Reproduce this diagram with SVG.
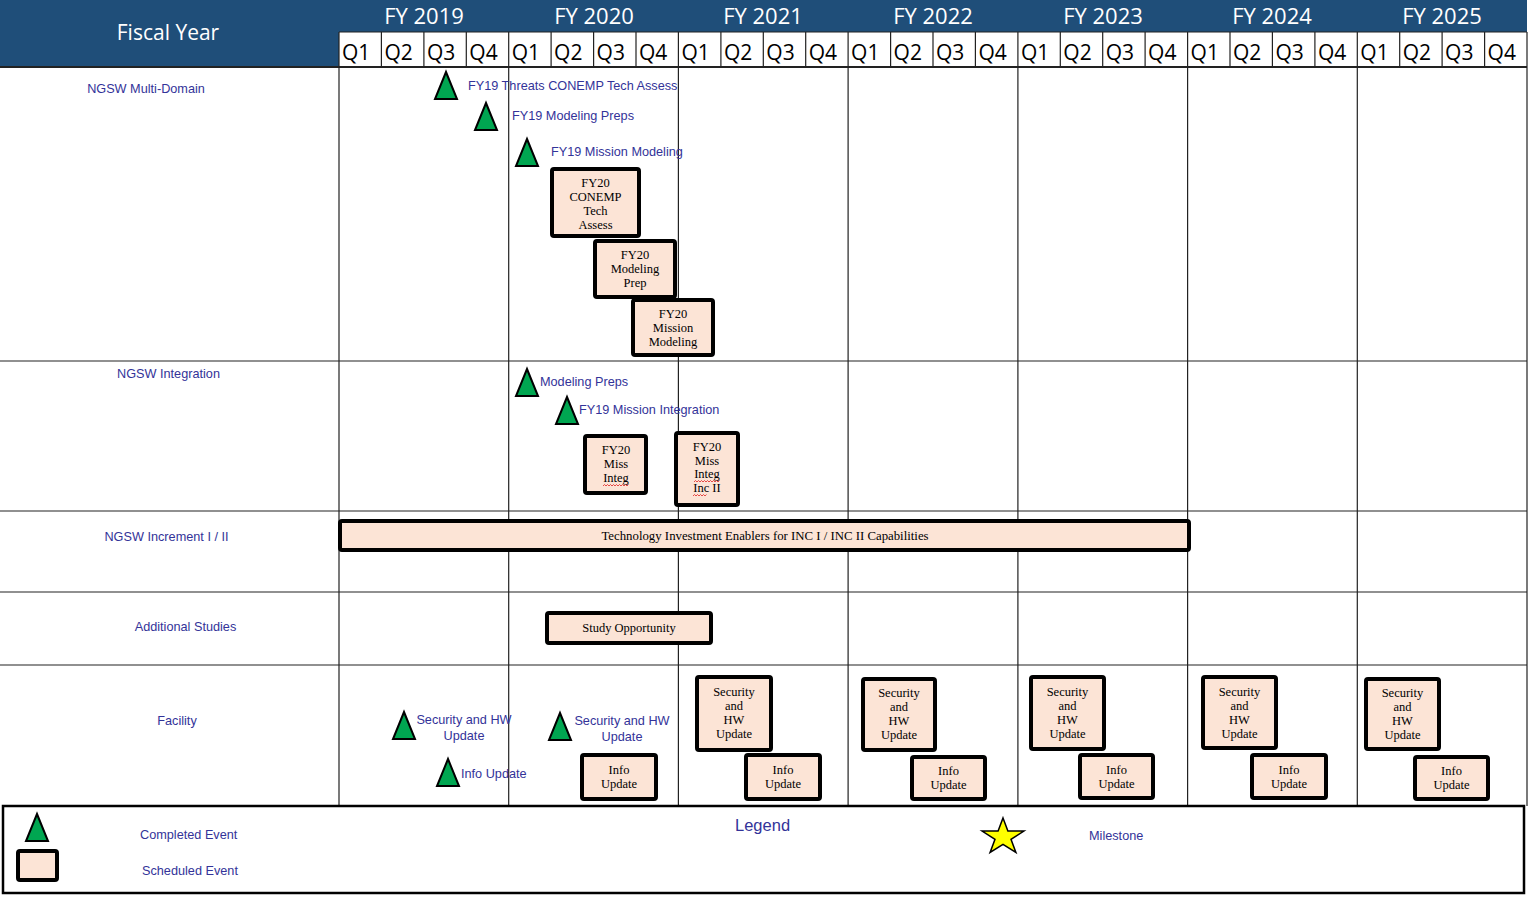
<svg xmlns="http://www.w3.org/2000/svg" xmlns:xlink="http://www.w3.org/1999/xlink" width="1529" height="897" viewBox="0 0 1529 897">
<style>
.lbl{font-family:"Liberation Sans",Arial,sans-serif;font-size:12.7px;fill:#333399}
.lblc{font-family:"Liberation Sans",Arial,sans-serif;font-size:12.7px;fill:#333399;text-anchor:middle}
.box{fill:#FCE4D6;stroke:#000;stroke-width:4}
.bt{font-family:"Liberation Serif","Times New Roman",serif;font-size:12.5px;fill:#000;text-anchor:middle}
.tri{fill:#00A651;stroke:#000;stroke-width:2}
.hd{font-family:"Open Sans","Noto Sans",sans-serif;fill:#fff;font-size:21px}
.fy{font-family:"Open Sans","Noto Sans",sans-serif;fill:#fff;font-size:22px;text-anchor:middle}
.q{font-family:"Open Sans","Noto Sans",sans-serif;font-size:21px;fill:#000}
.grid{stroke:#222;stroke-width:1.2;fill:none}
.wavy{stroke:#E02020;stroke-width:0.8;fill:none}
</style>
<defs>
<polygon id="tri" points="0,0 11,27 -11,27"/>
</defs>
<rect x="0" y="0" width="1529" height="897" fill="#fff"/>

<g id="header">
<rect x="0" y="0" width="1527" height="32" fill="#1F4E79"/>
<rect x="0" y="0" width="339" height="67" fill="#1F4E79"/>
<rect x="339" y="32" width="1188" height="35" fill="#fff"/>
<text class="hd" x="168" y="40" text-anchor="middle">Fiscal Year</text>
<text class="fy" x="424" y="24">FY 2019</text>
<text class="fy" x="594" y="24">FY 2020</text>
<text class="fy" x="763" y="24">FY 2021</text>
<text class="fy" x="933" y="24">FY 2022</text>
<text class="fy" x="1103" y="24">FY 2023</text>
<text class="fy" x="1272" y="24">FY 2024</text>
<text class="fy" x="1442" y="24">FY 2025</text>
<path class="grid" d="M339 32H1527M339 32V67M381.4 32V67M423.9 32V67M466.3 32V67M508.7 32V67M551.1 32V67M593.6 32V67M636 32V67M678.4 32V67M720.9 32V67M763.3 32V67M805.7 32V67M848.1 32V67M890.6 32V67M933 32V67M975.4 32V67M1017.9 32V67M1060.3 32V67M1102.7 32V67M1145.1 32V67M1187.6 32V67M1230 32V67M1272.4 32V67M1314.9 32V67M1357.3 32V67M1399.7 32V67M1442.1 32V67M1484.6 32V67M1527 32V67"/>
<g class="q">
<text x="342" y="60">Q1</text><text x="384.4" y="60">Q2</text><text x="426.9" y="60">Q3</text><text x="469.3" y="60">Q4</text>
<text x="511.7" y="60">Q1</text><text x="554.1" y="60">Q2</text><text x="596.6" y="60">Q3</text><text x="639" y="60">Q4</text>
<text x="681.4" y="60">Q1</text><text x="723.9" y="60">Q2</text><text x="766.3" y="60">Q3</text><text x="808.7" y="60">Q4</text>
<text x="851.1" y="60">Q1</text><text x="893.6" y="60">Q2</text><text x="936" y="60">Q3</text><text x="978.4" y="60">Q4</text>
<text x="1020.9" y="60">Q1</text><text x="1063.3" y="60">Q2</text><text x="1105.7" y="60">Q3</text><text x="1148.1" y="60">Q4</text>
<text x="1190.6" y="60">Q1</text><text x="1233" y="60">Q2</text><text x="1275.4" y="60">Q3</text><text x="1317.9" y="60">Q4</text>
<text x="1360.3" y="60">Q1</text><text x="1402.7" y="60">Q2</text><text x="1445.1" y="60">Q3</text><text x="1487.6" y="60">Q4</text>
</g>
<path d="M0 67H1527" stroke="#222" stroke-width="2"/>
</g>

<g id="grid">
<path class="grid" d="M339 67V806M508.7 67V806M678.4 67V806M848.1 67V806M1017.9 67V806M1187.6 67V806M1357.3 67V806M1527 67V806M0 361H1527M0 511H1527M0 592H1527M0 665H1527"/>
</g>

<g id="row-labels">
<text class="lblc" x="146" y="93">NGSW Multi-Domain</text>
<text class="lblc" x="168.5" y="378">NGSW Integration</text>
<text class="lblc" x="166.5" y="541">NGSW Increment I / II</text>
<text class="lblc" x="185.5" y="631">Additional Studies</text>
<text class="lblc" x="177" y="725">Facility</text>
</g>

<g id="ev-fy19-threats"><use href="#tri" class="tri" x="446" y="72"/><text class="lbl" x="468" y="90">FY19 Threats CONEMP Tech Assess</text></g>
<g id="ev-fy19-modeling-preps"><use href="#tri" class="tri" x="486" y="103"/><text class="lbl" x="512" y="120">FY19 Modeling Preps</text></g>
<g id="ev-fy19-mission-modeling"><use href="#tri" class="tri" x="527" y="139"/><text class="lbl" x="551" y="156">FY19 Mission Modeling</text></g>

<g id="box-fy20-conemp"><rect class="box" x="552" y="169" width="87" height="67" rx="2"/>
<text class="bt" x="595.5" y="187">FY20</text><text class="bt" x="595.5" y="201">CONEMP</text><text class="bt" x="595.5" y="215">Tech</text><text class="bt" x="595.5" y="229">Assess</text></g>
<g id="box-fy20-modeling-prep"><rect class="box" x="595" y="241" width="80" height="56" rx="2"/>
<text class="bt" x="635" y="259">FY20</text><text class="bt" x="635" y="273">Modeling</text><text class="bt" x="635" y="287">Prep</text></g>
<g id="box-fy20-mission-modeling"><rect class="box" x="633" y="300" width="80" height="55" rx="2"/>
<text class="bt" x="673" y="318">FY20</text><text class="bt" x="673" y="332">Mission</text><text class="bt" x="673" y="346">Modeling</text></g>

<g id="ev-modeling-preps"><use href="#tri" class="tri" x="527" y="369"/><text class="lbl" x="540" y="386">Modeling Preps</text></g>
<g id="ev-fy19-mission-integration"><use href="#tri" class="tri" x="567" y="397"/><text class="lbl" x="579" y="414">FY19 Mission Integration</text></g>

<g id="box-fy20-miss-integ"><rect class="box" x="585" y="436" width="61" height="57" rx="2"/>
<text class="bt" x="616" y="454">FY20</text><text class="bt" x="616" y="468">Miss</text><text class="bt" x="616" y="482">Integ</text>
<path class="wavy" d="M603 486l1.5-1.5 1.5 1.5 1.5-1.5 1.5 1.5 1.5-1.5 1.5 1.5 1.5-1.5 1.5 1.5 1.5-1.5 1.5 1.5 1.5-1.5 1.5 1.5 1.5-1.5 1.5 1.5 1.5-1.5 1.5 1.5 1.5-1.5"/></g>
<g id="box-fy20-miss-integ-inc2"><rect class="box" x="676" y="433" width="62" height="72" rx="2"/>
<text class="bt" x="707" y="451">FY20</text><text class="bt" x="707" y="465">Miss</text><text class="bt" x="707" y="478">Integ</text><text class="bt" x="707" y="492">Inc II</text>
<path class="wavy" d="M694 482l1.5-1.5 1.5 1.5 1.5-1.5 1.5 1.5 1.5-1.5 1.5 1.5 1.5-1.5 1.5 1.5 1.5-1.5 1.5 1.5 1.5-1.5 1.5 1.5 1.5-1.5 1.5 1.5 1.5-1.5 1.5 1.5 1.5-1.5M693 496l1.5-1.5 1.5 1.5 1.5-1.5 1.5 1.5 1.5-1.5 1.5 1.5 1.5-1.5 1.5 1.5 1.5-1.5"/></g>

<g id="bar-tech-investment"><rect class="box" x="340" y="521" width="849" height="29" rx="2"/>
<text class="bt" x="765" y="540" style="font-size:12.8px">Technology Investment Enablers for INC I / INC II Capabilities</text></g>

<g id="box-study-opportunity"><rect class="box" x="547" y="613" width="164" height="30" rx="2"/>
<text class="bt" x="629" y="632">Study Opportunity</text></g>

<g id="ev-fy19-security-hw"><use href="#tri" class="tri" x="404" y="712"/><text class="lblc" x="464" y="724">Security and HW</text><text class="lblc" x="464" y="740">Update</text></g>
<g id="ev-fy19-info-update"><use href="#tri" class="tri" x="448" y="759"/><text class="lbl" x="461" y="778">Info Update</text></g>
<g id="ev-fy20-security-hw"><use href="#tri" class="tri" x="560" y="713"/><text class="lblc" x="622" y="725">Security and HW</text><text class="lblc" x="622" y="741">Update</text></g>

<g id="box-fy20-info"><rect class="box" x="582" y="755" width="74" height="44" rx="2"/>
<text class="bt" x="619" y="774">Info</text><text class="bt" x="619" y="788">Update</text></g>

<g id="box-fy21-sec"><rect class="box" x="697" y="677" width="74" height="73" rx="2"/>
<text class="bt" x="734" y="696">Security</text><text class="bt" x="734" y="710">and</text><text class="bt" x="734" y="724">HW</text><text class="bt" x="734" y="738">Update</text></g>
<g id="box-fy21-info"><rect class="box" x="746" y="755" width="74" height="44" rx="2"/>
<text class="bt" x="783" y="774">Info</text><text class="bt" x="783" y="788">Update</text></g>

<g id="box-fy22-sec"><rect class="box" x="863" y="679" width="72" height="71" rx="2"/>
<text class="bt" x="899" y="697">Security</text><text class="bt" x="899" y="711">and</text><text class="bt" x="899" y="725">HW</text><text class="bt" x="899" y="739">Update</text></g>
<g id="box-fy22-info"><rect class="box" x="912" y="757" width="73" height="42" rx="2"/>
<text class="bt" x="948.5" y="775">Info</text><text class="bt" x="948.5" y="789">Update</text></g>

<g id="box-fy23-sec"><rect class="box" x="1031" y="677" width="73" height="72" rx="2"/>
<text class="bt" x="1067.5" y="696">Security</text><text class="bt" x="1067.5" y="710">and</text><text class="bt" x="1067.5" y="724">HW</text><text class="bt" x="1067.5" y="738">Update</text></g>
<g id="box-fy23-info"><rect class="box" x="1080" y="755" width="73" height="43" rx="2"/>
<text class="bt" x="1116.5" y="774">Info</text><text class="bt" x="1116.5" y="788">Update</text></g>

<g id="box-fy24-sec"><rect class="box" x="1203" y="677" width="73" height="71" rx="2"/>
<text class="bt" x="1239.5" y="696">Security</text><text class="bt" x="1239.5" y="710">and</text><text class="bt" x="1239.5" y="724">HW</text><text class="bt" x="1239.5" y="738">Update</text></g>
<g id="box-fy24-info"><rect class="box" x="1252" y="755" width="74" height="43" rx="2"/>
<text class="bt" x="1289" y="774">Info</text><text class="bt" x="1289" y="788">Update</text></g>

<g id="box-fy25-sec"><rect class="box" x="1366" y="679" width="73" height="70" rx="2"/>
<text class="bt" x="1402.5" y="697">Security</text><text class="bt" x="1402.5" y="711">and</text><text class="bt" x="1402.5" y="725">HW</text><text class="bt" x="1402.5" y="739">Update</text></g>
<g id="box-fy25-info"><rect class="box" x="1415" y="757" width="73" height="42" rx="2"/>
<text class="bt" x="1451.5" y="775">Info</text><text class="bt" x="1451.5" y="789">Update</text></g>

<g id="connectors"></g>

<g id="legend">
<rect x="3" y="806" width="1521" height="87" fill="#fff" stroke="#000" stroke-width="2.5"/>
<use href="#tri" class="tri" x="37" y="814"/>
<rect class="box" x="18" y="851" width="39" height="29" rx="2"/>
<text class="lbl" x="140" y="839">Completed Event</text>
<text class="lbl" x="142" y="875">Scheduled Event</text>
<text class="lbl" x="735" y="831" style="font-size:16.5px">Legend</text>
<polygon points="1003,818 1007.9,831.1 1023.9,831.1 1011,839.3 1015.9,852.4 1003,844.3 990.1,852.4 995,839.3 982.1,831.1 998.1,831.1" fill="#FFFF00" stroke="#000" stroke-width="1.5"/>
<text class="lbl" x="1089" y="840">Milestone</text>
</g>
</svg>
